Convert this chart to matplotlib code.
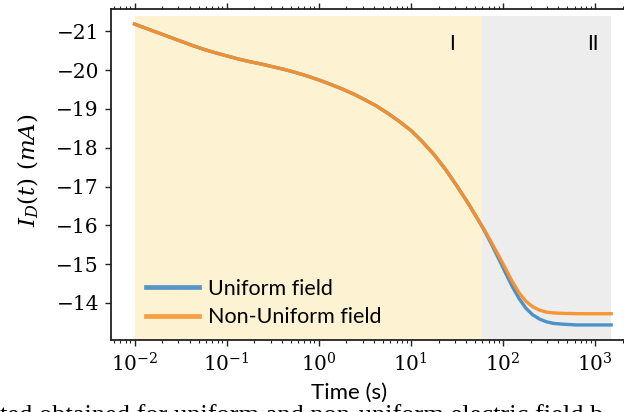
import matplotlib
matplotlib.use("Agg")
import matplotlib.pyplot as plt

# Sample times (s) and drain current (mA) for the two field configurations
time_s = [0.01, 0.0133, 0.0178, 0.0237, 0.0316, 0.0422, 0.0562, 0.075,
          0.1, 0.133, 0.178, 0.237, 0.316, 0.422, 0.562, 0.75,
          1.0, 1.33, 1.78, 2.37, 3.16, 4.22, 5.62, 7.5,
          10.0, 13.3, 17.8, 23.7, 31.6, 42.2, 56.2, 63.1,
          75.0, 89.1, 106, 126, 150, 178, 211, 251,
          299, 355, 447, 631, 1000, 1500]

uniform_mA = [-21.19, -21.08, -20.97, -20.86, -20.75, -20.64, -20.54, -20.45,
              -20.37, -20.29, -20.22, -20.16, -20.09, -20.02, -19.94, -19.85,
              -19.75, -19.64, -19.52, -19.39, -19.24, -19.08, -18.89, -18.68,
              -18.45, -18.16, -17.83, -17.45, -17.02, -16.56, -16.07, -15.86,
              -15.52, -15.16, -14.79, -14.43, -14.11, -13.86, -13.69, -13.58,
              -13.51, -13.47, -13.45, -13.43, -13.43, -13.43]

nonuniform_mA = [-21.19, -21.08, -20.97, -20.86, -20.75, -20.64, -20.54, -20.45,
                 -20.37, -20.29, -20.22, -20.16, -20.09, -20.02, -19.94, -19.85,
                 -19.75, -19.64, -19.52, -19.39, -19.24, -19.08, -18.89, -18.68,
                 -18.45, -18.16, -17.83, -17.45, -17.02, -16.56, -16.07, -15.88,
                 -15.56, -15.24, -14.90, -14.56, -14.26, -14.04, -13.90, -13.81,
                 -13.76, -13.74, -13.73, -13.72, -13.72, -13.72]

series_labels = ["Uniform field", "Non-Uniform field"]
phase_boundary_s = 60.0
phase_labels = ["I", "II"]
y_ticks = [-21, -20, -19, -18, -17, -16, -15, -14]

plt.rcParams["font.family"] = ["DejaVu Serif"]
plt.rcParams["mathtext.fontset"] = "dejavuserif"

W, H = 624, 412
fig = plt.figure(figsize=(W / 100, H / 100), dpi=100)
ax = fig.add_axes([110.7 / W, 1 - 340 / H, (635 - 110.7) / W, 331 / H])

# Phase shading
ax.axvspan(time_s[0], phase_boundary_s, ymin=0, ymax=0.979,
           color="#fdf2d2", lw=0, zorder=0)
ax.axvspan(phase_boundary_s, time_s[-1], ymin=0, ymax=0.979,
           color="#ededed", lw=0, zorder=0)

ax.plot(time_s, uniform_mA, color="#3a87c4", lw=2.4, alpha=0.9,
        label=series_labels[0], zorder=2)
ax.plot(time_s, nonuniform_mA, color="#f8902a", lw=2.4, alpha=0.95,
        label=series_labels[1], zorder=3)

ax.set_xscale("log")
ax.invert_yaxis()
ax.set_yticks(y_ticks)

for side in ["left", "bottom", "top"]:
    ax.spines[side].set_color("#222222")
    ax.spines[side].set_linewidth(1.3)
ax.spines["right"].set_visible(False)

ax.tick_params(which="both", direction="out", top=True, right=False,
               labeltop=False, colors="#222222", labelcolor="black",
               labelsize=14.5)
ax.tick_params(which="major", length=4, width=1.0, pad=4.5)
ax.tick_params(which="minor", length=2, width=0.8)

ax.set_xlabel("Time (s)", family="Lato", fontsize=16, va="top")
ax.xaxis.set_label_coords((349 - 110.7) / 524.3, (340 - 383) / 331)
ax.set_ylabel(r"$I_D(t)\ (mA)$", fontsize=16.5, va="center")
ax.yaxis.set_label_coords((28 - 110.7) / 524.3, (340 - 170) / 331)

for label, xpos in zip(phase_labels, [452, 593]):
    ax.text((xpos - 110.7) / 524.3, (340 - 44) / 331, label,
            transform=ax.transAxes, family="Lato", fontsize=15,
            ha="center", va="center")

leg = ax.legend(loc="lower left", bbox_to_anchor=(137 / W, 1 - 336 / H),
                bbox_transform=fig.transFigure, borderaxespad=0,
                prop={"family": "Lato", "size": 15.5}, handlelength=2.5,
                handletextpad=0.4, labelspacing=0.4, frameon=False)
for h in leg.get_lines():
    h.set_linewidth(3.4)
    h.set_alpha(0.85)

# Caption line below the figure
fig.text(0, 1 - 422 / H, "ted obtained for uniform and non-uniform electric field b",
         family="Liberation Serif", fontsize=19, va="baseline", ha="left")

fig.savefig("out.png", dpi=100)
